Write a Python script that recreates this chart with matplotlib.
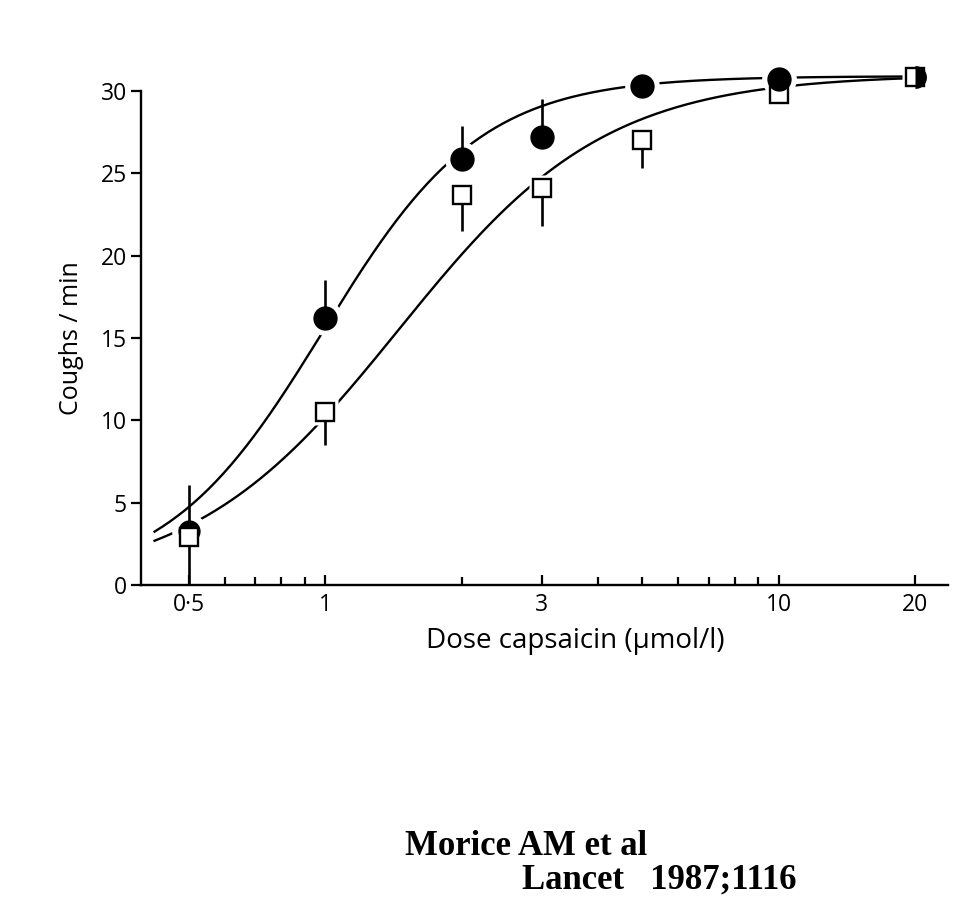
import numpy as np
import matplotlib
matplotlib.use("Agg")
import matplotlib.pyplot as plt
from matplotlib.ticker import FixedLocator, FixedFormatter, NullFormatter

# Capsaicin dose (umol/l)
dose = [0.5, 1, 2, 3, 5, 10, 20]

# Mean coughs/min, group A (filled circles) with upper SEM
circle_mean = [3.3, 16.2, 25.9, 27.2, 30.3, 30.7, 30.85]
circle_err = [2.8, 2.3, 2.0, 2.3, 0.0, 0.0, 0.0]

# Mean coughs/min, group B (open squares) with lower SEM
square_mean = [2.9, 10.5, 23.7, 24.1, 27.0, 29.8, 30.85]
square_err = [2.9, 2.0, 2.2, 2.3, 1.7, 0.0, 0.0]

# Fitted dose-response (Hill) parameters: Emax, EC50, slope
fit_a = (30.9, 0.99, 2.5)
fit_b = (31.0, 1.45, 1.9)

x_major = [0.5, 1, 3, 10, 20]
x_major_labels = ["0·5", "1", "3", "10", "20"]
x_minor = [0.6, 0.7, 0.8, 0.9, 2, 4, 5, 6, 7, 8, 9]
y_ticks = [0, 5, 10, 15, 20, 25, 30]

plt.rcParams["font.family"] = ["Open Sans", "DejaVu Sans"]

fig = plt.figure(figsize=(9.73, 9.19), dpi=100)
ax = fig.add_axes([141 / 973, (919 - 585) / 919, (948 - 141) / 973, (585 - 91) / 919])

ax.set_xscale("log")
ax.set_xlim(0.392, 23.6)
ax.set_ylim(0, 30)


def hill(x, p):
    emax, ec50, n = p
    return emax * x ** n / (x ** n + ec50 ** n)


xs = np.logspace(np.log10(0.42), np.log10(20), 300)
ax.plot(xs, hill(xs, fit_a), color="black", lw=1.7, zorder=2, clip_on=False)
ax.plot(xs, hill(xs, fit_b), color="black", lw=1.7, zorder=2, clip_on=False)

d = np.array(dose)
cm = np.array(circle_mean)
sm = np.array(square_mean)

# white halo around markers so the curves break at each point
ax.plot(d[:-1], cm[:-1], "o", ms=25, mfc="white", mec="none", zorder=2.5, clip_on=False)
ax.plot(d, sm, "s", ms=19, mfc="white", mec="none", zorder=2.5, clip_on=False)

# error bars: circles upwards, squares downwards
ax.errorbar(d, cm, yerr=[np.zeros_like(cm), circle_err], fmt="none",
            ecolor="black", elinewidth=1.9, capsize=0, zorder=3, clip_on=False)
ax.errorbar(d, sm, yerr=[square_err, np.zeros_like(sm)], fmt="none",
            ecolor="black", elinewidth=1.9, capsize=0, zorder=3, clip_on=False)

# squares
ax.plot(d[1:], sm[1:], "s", ms=12.5, mfc="white", mec="black", mew=1.7,
        zorder=4, clip_on=False)
# filled circles
ax.plot(d[1:-1], cm[1:-1], "o", ms=16.5, mfc="black", mec="black",
        zorder=5, clip_on=False)
# lowest dose: square overlaps the circle
ax.plot(d[:1], cm[:1], "o", ms=15, mfc="black", mec="black", zorder=5, clip_on=False)
ax.plot(d[:1], sm[:1], "s", ms=12.5, mfc="white", mec="black", mew=1.7,
        zorder=6, clip_on=False)
# highest dose: both groups coincide, half-filled symbol
ax.plot(d[-1:], cm[-1:], "o", ms=16.5, fillstyle="right", mfc="black",
        mfcalt="none", mec="none", zorder=6, clip_on=False)

for side in ("top", "right"):
    ax.spines[side].set_visible(False)
for side in ("left", "bottom"):
    ax.spines[side].set_linewidth(1.7)

ax.xaxis.set_major_locator(FixedLocator(x_major))
ax.xaxis.set_major_formatter(FixedFormatter(x_major_labels))
ax.xaxis.set_minor_locator(FixedLocator(x_minor))
ax.xaxis.set_minor_formatter(NullFormatter())
ax.tick_params(axis="x", which="major", direction="in", length=7, width=1.6,
               labelsize=16.5, pad=6)
ax.tick_params(axis="x", which="minor", direction="in", length=6, width=1.6)

ax.set_yticks(y_ticks)
ax.tick_params(axis="y", direction="out", length=7, width=1.6, labelsize=16.5, pad=3)

ax.set_xlabel("Dose capsaicin (µmol/l)", fontsize=20, labelpad=4)
ax.xaxis.set_label_coords((575 - 141) / (948 - 141), -0.085)
ax.set_ylabel("Coughs / min", fontsize=18, labelpad=12)

fig.text(405 / 973, 1 - 855 / 919, "Morice AM et al", fontsize=25,
         fontweight="bold", family="Liberation Serif", ha="left", va="baseline")
fig.text(522 / 973, 1 - 889 / 919, "Lancet   1987;1116", fontsize=25,
         fontweight="bold", family="Liberation Serif", ha="left", va="baseline")

fig.savefig("out.png", dpi=100, facecolor="white")
